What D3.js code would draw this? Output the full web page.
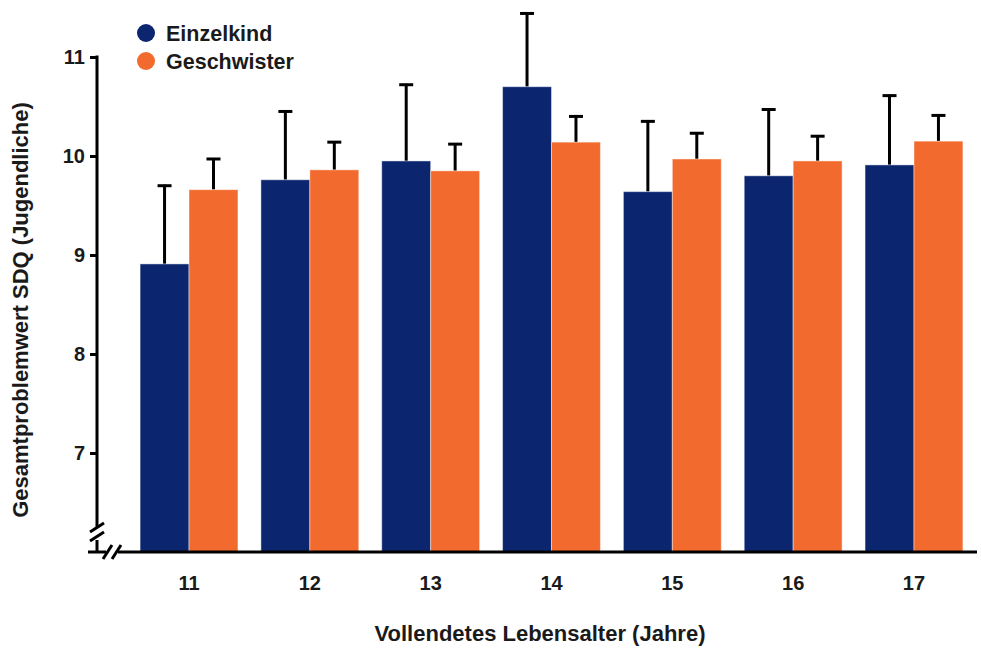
<!DOCTYPE html>
<meta charset="utf-8">
<style>
body { margin: 0; background: #fff; }
text { font-family: "Liberation Sans", Arial, sans-serif; font-weight: bold; fill: #1a1a1a; }
.tick line { stroke: #000; stroke-width: 3px; }
</style>
<svg width="981" height="648"></svg>
<script src="https://cdn.jsdelivr.net/npm/d3@7"></script>
<script>
var ages = ["11", "12", "13", "14", "15", "16", "17"];
var series = ["Einzelkind", "Geschwister"];
var colors = ["#0b266f", "#f26a2d"];
var einzelkind = [8.91, 9.76, 9.95, 10.70, 9.64, 9.80, 9.91];
var einzelkindErr = [0.80, 0.70, 0.78, 0.75, 0.72, 0.68, 0.71];
var geschwister = [9.66, 9.86, 9.85, 10.14, 9.97, 9.95, 10.15];
var geschwisterErr = [0.32, 0.29, 0.28, 0.27, 0.27, 0.26, 0.27];
var yTicks = [7, 8, 9, 10, 11];

var svg = d3.select("svg");

var x = d3.scaleBand().domain(ages).range([128, 975]).paddingInner(0.19).paddingOuter(0.1);
var xs = d3.scaleBand().domain(series).range([0, x.bandwidth()]);
var y = d3.scaleLinear().domain([6, 11]).range([552, 57]);

var rows = [];
ages.forEach(function(a, i) {
  rows.push({age: a, s: 0, v: einzelkind[i], e: einzelkindErr[i]});
  rows.push({age: a, s: 1, v: geschwister[i], e: geschwisterErr[i]});
});

// error bars first (behind bars)
var eb = svg.append("g").selectAll("g").data(rows).enter().append("g")
  .attr("transform", function(d) { return "translate(" + (x(d.age) + xs(series[d.s]) + xs.bandwidth() / 2) + ",0)"; });
eb.append("line")
  .attr("y1", function(d) { return y(d.v); })
  .attr("y2", function(d) { return y(d.v + d.e); })
  .attr("stroke", "#000").attr("stroke-width", 3);
eb.append("line")
  .attr("x1", -7).attr("x2", 7)
  .attr("y1", function(d) { return y(d.v + d.e) + 1; })
  .attr("y2", function(d) { return y(d.v + d.e) + 1; })
  .attr("stroke", "#000").attr("stroke-width", 3);

svg.append("g").selectAll("rect").data(rows).enter().append("rect")
  .attr("x", function(d) { return x(d.age) + xs(series[d.s]); })
  .attr("width", xs.bandwidth())
  .attr("y", function(d) { return y(d.v); })
  .attr("height", function(d) { return y(6) - y(d.v); })
  .attr("fill", function(d) { return colors[d.s]; })
  .attr("stroke", "rgba(255,255,255,0.45)")
  .attr("stroke-width", 1);

// y axis
var ya = svg.append("g").attr("transform", "translate(97,0)")
  .call(d3.axisLeft(y).tickValues(yTicks).tickSize(7).tickPadding(5).tickFormat(d3.format("d")));
ya.select(".domain").remove();
ya.selectAll("text").style("font-size", "20px");
svg.append("line").attr("x1", 97).attr("x2", 97).attr("y1", y(11) - 1.5).attr("y2", 528)
  .attr("stroke", "#000").attr("stroke-width", 3);
svg.append("line").attr("x1", 97).attr("x2", 97).attr("y1", 540).attr("y2", 553)
  .attr("stroke", "#000").attr("stroke-width", 3);
[527, 536].forEach(function(yy) {
  svg.append("line").attr("x1", 90).attr("x2", 104).attr("y1", yy + 5).attr("y2", yy - 4)
    .attr("stroke", "#000").attr("stroke-width", 3);
});

// x axis
svg.append("line").attr("x1", 88).attr("x2", 106).attr("y1", 552).attr("y2", 552)
  .attr("stroke", "#000").attr("stroke-width", 3);
svg.append("line").attr("x1", 118).attr("x2", 977).attr("y1", 552).attr("y2", 552)
  .attr("stroke", "#000").attr("stroke-width", 3);
[107, 116].forEach(function(xx) {
  svg.append("line").attr("x1", xx - 4).attr("x2", xx + 5).attr("y1", 559).attr("y2", 545)
    .attr("stroke", "#000").attr("stroke-width", 3);
});
var xa = svg.append("g").attr("transform", "translate(0,552)")
  .call(d3.axisBottom(x).tickSize(0).tickPadding(24));
xa.select(".domain").remove();
xa.selectAll("text").style("font-size", "20px");

// titles
svg.append("text").attr("x", 540).attr("y", 641).attr("text-anchor", "middle")
  .style("font-size", "22px").text("Vollendetes Lebensalter (Jahre)");
svg.append("text").attr("transform", "translate(28,310) rotate(-90)").attr("text-anchor", "middle")
  .style("font-size", "22px").text("Gesamtproblemwert SDQ (Jugendliche)");

// legend
var lg = svg.append("g").selectAll("g").data(series).enter().append("g")
  .attr("transform", function(d, i) { return "translate(146," + (33 + i * 28) + ")"; });
lg.append("circle").attr("r", 9).attr("fill", function(d, i) { return colors[i]; });
lg.append("text").attr("x", 20).attr("dy", "0.35em").style("font-size", "21.5px").text(function(d) { return d; });
</script>
